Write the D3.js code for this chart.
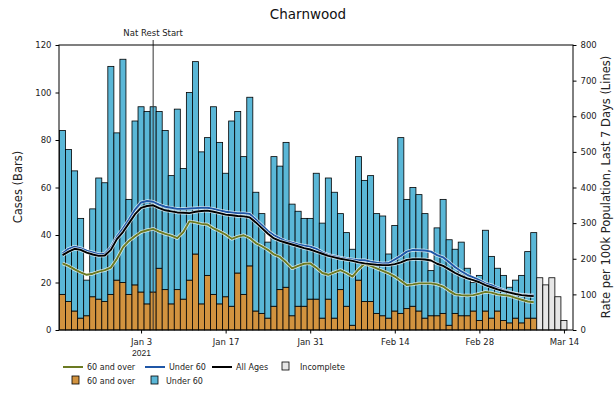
<!DOCTYPE html>
<html><head><meta charset="utf-8">
<script src="https://cdn.jsdelivr.net/npm/d3@7"></script>
<style>body{margin:0;background:#fff}svg{display:block;font-family:"DejaVu Sans",sans-serif}</style>
</head><body><svg id="c" width="616" height="393"></svg>
<script>
// ---- data ----
const firstDay = "2020-12-21";
const over60 = [15,12,8,5,6,14,13,12,15,21,20,15,19,16,11,16,26,17,11,17,13,21,32,11,23,15,11,14,10,24,15,27,8,7,5,10,17,18,6,10,10,13,13,5,13,5,17,10,2,21,12,12,7,6,5,8,7,9,10,8,5,6,6,7,2,7,6,6,8,4,8,5,8,4,3,5,3,5,5];
const under60 = [69,64,59,42,15,37,51,50,96,62,94,40,69,78,81,78,66,67,54,76,55,79,81,64,58,79,68,52,78,68,58,71,50,42,32,63,52,61,47,40,37,34,53,40,51,53,32,31,32,52,51,53,42,42,27,36,74,46,50,49,44,19,37,48,36,27,31,20,12,19,34,26,18,19,15,16,20,28,36];
const incomplete = [22,19,22,14,4];
const rateOver60 = [187,180,170,162,155,158,164,168,175,200,232,250,263,275,280,284,276,270,265,258,275,305,302,298,296,285,277,268,256,262,266,258,244,235,225,212,205,190,173,180,186,187,175,160,155,162,168,160,150,170,186,180,173,166,159,150,138,126,128,131,131,131,128,122,110,100,98,97,98,102,107,105,100,98,96,90,85,80,78];
const rateUnder60 = [215,228,234,230,223,218,213,214,232,262,285,310,338,358,362,360,352,346,343,340,340,341,342,343,343,340,336,332,330,328,328,326,310,294,278,266,257,249,245,240,237,234,228,218,211,207,203,200,198,196,196,192,189,187,188,198,208,220,225,224,223,220,210,204,190,176,165,155,148,140,131,126,118,112,107,102,99,98,98];
const rateAll = [210,220,228,225,217,212,208,209,225,255,275,300,325,343,348,350,342,336,333,330,329,328,332,334,335,332,328,324,322,320,319,316,302,286,270,257,250,245,240,235,230,226,220,214,208,204,200,197,194,190,187,185,183,182,182,185,190,197,199,199,198,195,186,180,170,160,152,145,140,134,126,120,114,109,105,101,98,96,95];
const tickDates = ["2021-01-03","2021-01-17","2021-01-31","2021-02-14","2021-02-28","2021-03-14"];
const leftTicks = [0,20,40,60,80,100,120];
const rightTicks = [0,100,200,300,400,500,600,700,800];
const eventDate = "2021-01-05";
const eventLabel = "Nat Rest Start";

// ---- layout ----
const svg = d3.select("#c");
const L=59,R=573,T=45,B=330;
const parse = d3.timeParse("%Y-%m-%d");
const d0 = parse(firstDay);
const nAll = over60.length + incomplete.length;
const days = d3.range(nAll).map(i => d3.timeDay.offset(d0, i));
const x = d3.scaleTime()
  .domain([d3.timeHour.offset(days[0], -14), d3.timeHour.offset(days[nAll-1], 36)])
  .range([L, R]);
const bw = x(d3.timeDay.offset(d0,1)) - x(d0);
const yL = d3.scaleLinear().domain([0,120]).range([B,T]);
const yR = d3.scaleLinear().domain([0,800]).range([B,T]);

const cOrange="#d2933f", cBlue="#5ab7d7", cGrey="#e6e6e6";
const cLOver="#6b7a22", cLUnder="#1f56a6", cLAll="#000";

// bars
const g = svg.append("g");
over60.forEach((v,i)=>{
  const cx = x(days[i]);
  g.append("rect").attr("x",cx-bw/2).attr("width",bw)
    .attr("y",yL(v)).attr("height",yL(0)-yL(v))
    .attr("fill",cOrange).attr("stroke","#000").attr("stroke-width",0.8);
  g.append("rect").attr("x",cx-bw/2).attr("width",bw)
    .attr("y",yL(v+under60[i])).attr("height",yL(v)-yL(v+under60[i]))
    .attr("fill",cBlue).attr("stroke","#000").attr("stroke-width",0.8);
});
incomplete.forEach((v,j)=>{
  const cx = x(days[over60.length+j]);
  g.append("rect").attr("x",cx-bw/2).attr("width",bw)
    .attr("y",yL(v)).attr("height",yL(0)-yL(v))
    .attr("fill",cGrey).attr("stroke","#000").attr("stroke-width",0.8);
});

// event line
const ex = x(parse(eventDate));
svg.append("line").attr("x1",ex).attr("x2",ex).attr("y1",40).attr("y2",B)
  .attr("stroke","#333").attr("stroke-width",1);
svg.append("text").attr("x",ex).attr("y",36).attr("text-anchor","middle")
  .attr("font-size",8.5).attr("fill","#222").text(eventLabel);

// lines
function drawLine(vals,color){
  const line = d3.line().x((d,i)=>x(days[i])).y(d=>yR(d));
  svg.append("path").datum(vals).attr("d",line).attr("fill","none")
    .attr("stroke","#fff").attr("stroke-opacity",0.75).attr("stroke-width",3.4).attr("stroke-linejoin","round");
  svg.append("path").datum(vals).attr("d",line).attr("fill","none")
    .attr("stroke",color).attr("stroke-width",1.9).attr("stroke-linejoin","round");
}
drawLine(rateOver60,cLOver);
drawLine(rateUnder60,cLUnder);
drawLine(rateAll,cLAll);

// frame
svg.append("rect").attr("x",L).attr("y",T).attr("width",R-L).attr("height",B-T)
  .attr("fill","none").attr("stroke","#000").attr("stroke-width",1);

// axes
const fmtTick = d3.timeFormat("%b %-d");
const ax = svg.append("g").attr("transform",`translate(0,${B})`)
  .call(d3.axisBottom(x).tickValues(tickDates.map(parse)).tickSize(3.5).tickPadding(5).tickFormat(fmtTick));
ax.select(".domain").remove();
ax.selectAll("text").attr("font-size",8.5).attr("fill","#222").attr("font-family","DejaVu Sans");
ax.selectAll(".tick").filter((d,i)=>i===0).append("text")
  .attr("y",20).attr("dy","0.71em").attr("text-anchor","middle")
  .attr("font-size",8.5).attr("fill","#222").text("2021");

const ayl = svg.append("g").attr("transform",`translate(${L},0)`)
  .call(d3.axisLeft(yL).tickValues(leftTicks).tickSize(3.5).tickPadding(4));
ayl.select(".domain").remove();
ayl.selectAll("text").attr("font-size",8.5).attr("fill","#222").attr("font-family","DejaVu Sans");
const ayr = svg.append("g").attr("transform",`translate(${R},0)`)
  .call(d3.axisRight(yR).tickValues(rightTicks).tickSize(3.5).tickPadding(4));
ayr.select(".domain").remove();
ayr.selectAll("text").attr("font-size",8.5).attr("fill","#222").attr("font-family","DejaVu Sans");

// titles
svg.append("text").attr("x",308).attr("y",19).attr("text-anchor","middle")
  .attr("font-size",13.5).attr("fill","#111").text("Charnwood");
svg.append("text").attr("transform","translate(22,187) rotate(-90)").attr("text-anchor","middle")
  .attr("font-size",11.5).attr("fill","#222").text("Cases (Bars)");
svg.append("text").attr("transform","translate(610,187) rotate(-90)").attr("text-anchor","middle")
  .attr("font-size",11.5).attr("fill","#222").text("Rate per 100k Population, Last 7 Days (Lines)");

// legend
const lg = svg.append("g").attr("font-size",8).attr("fill","#222");
const legLines = [
  {x:63, label:"60 and over", color:cLOver},
  {x:145, label:"Under 60", color:cLUnder},
  {x:212, label:"All Ages", color:cLAll}
];
legLines.forEach(d=>{
  lg.append("line").attr("x1",d.x).attr("x2",d.x+20).attr("y1",367).attr("y2",367)
    .attr("stroke",d.color).attr("stroke-width",2);
  lg.append("text").attr("x",d.x+24).attr("y",370).text(d.label);
});
const legBoxes = [
  {x:282, y:362, label:"Incomplete", color:cGrey},
  {x:72, y:376, label:"60 and over", color:cOrange},
  {x:151, y:376, label:"Under 60", color:cBlue}
];
legBoxes.forEach(d=>{
  lg.append("rect").attr("x",d.x).attr("y",d.y).attr("width",7).attr("height",8)
    .attr("fill",d.color).attr("stroke","#000").attr("stroke-width",0.8);
  lg.append("text").attr("x",d.x+ (d.label==="Incomplete"?18:15)).attr("y",d.y+7.5).text(d.label);
});
</script></body></html>
